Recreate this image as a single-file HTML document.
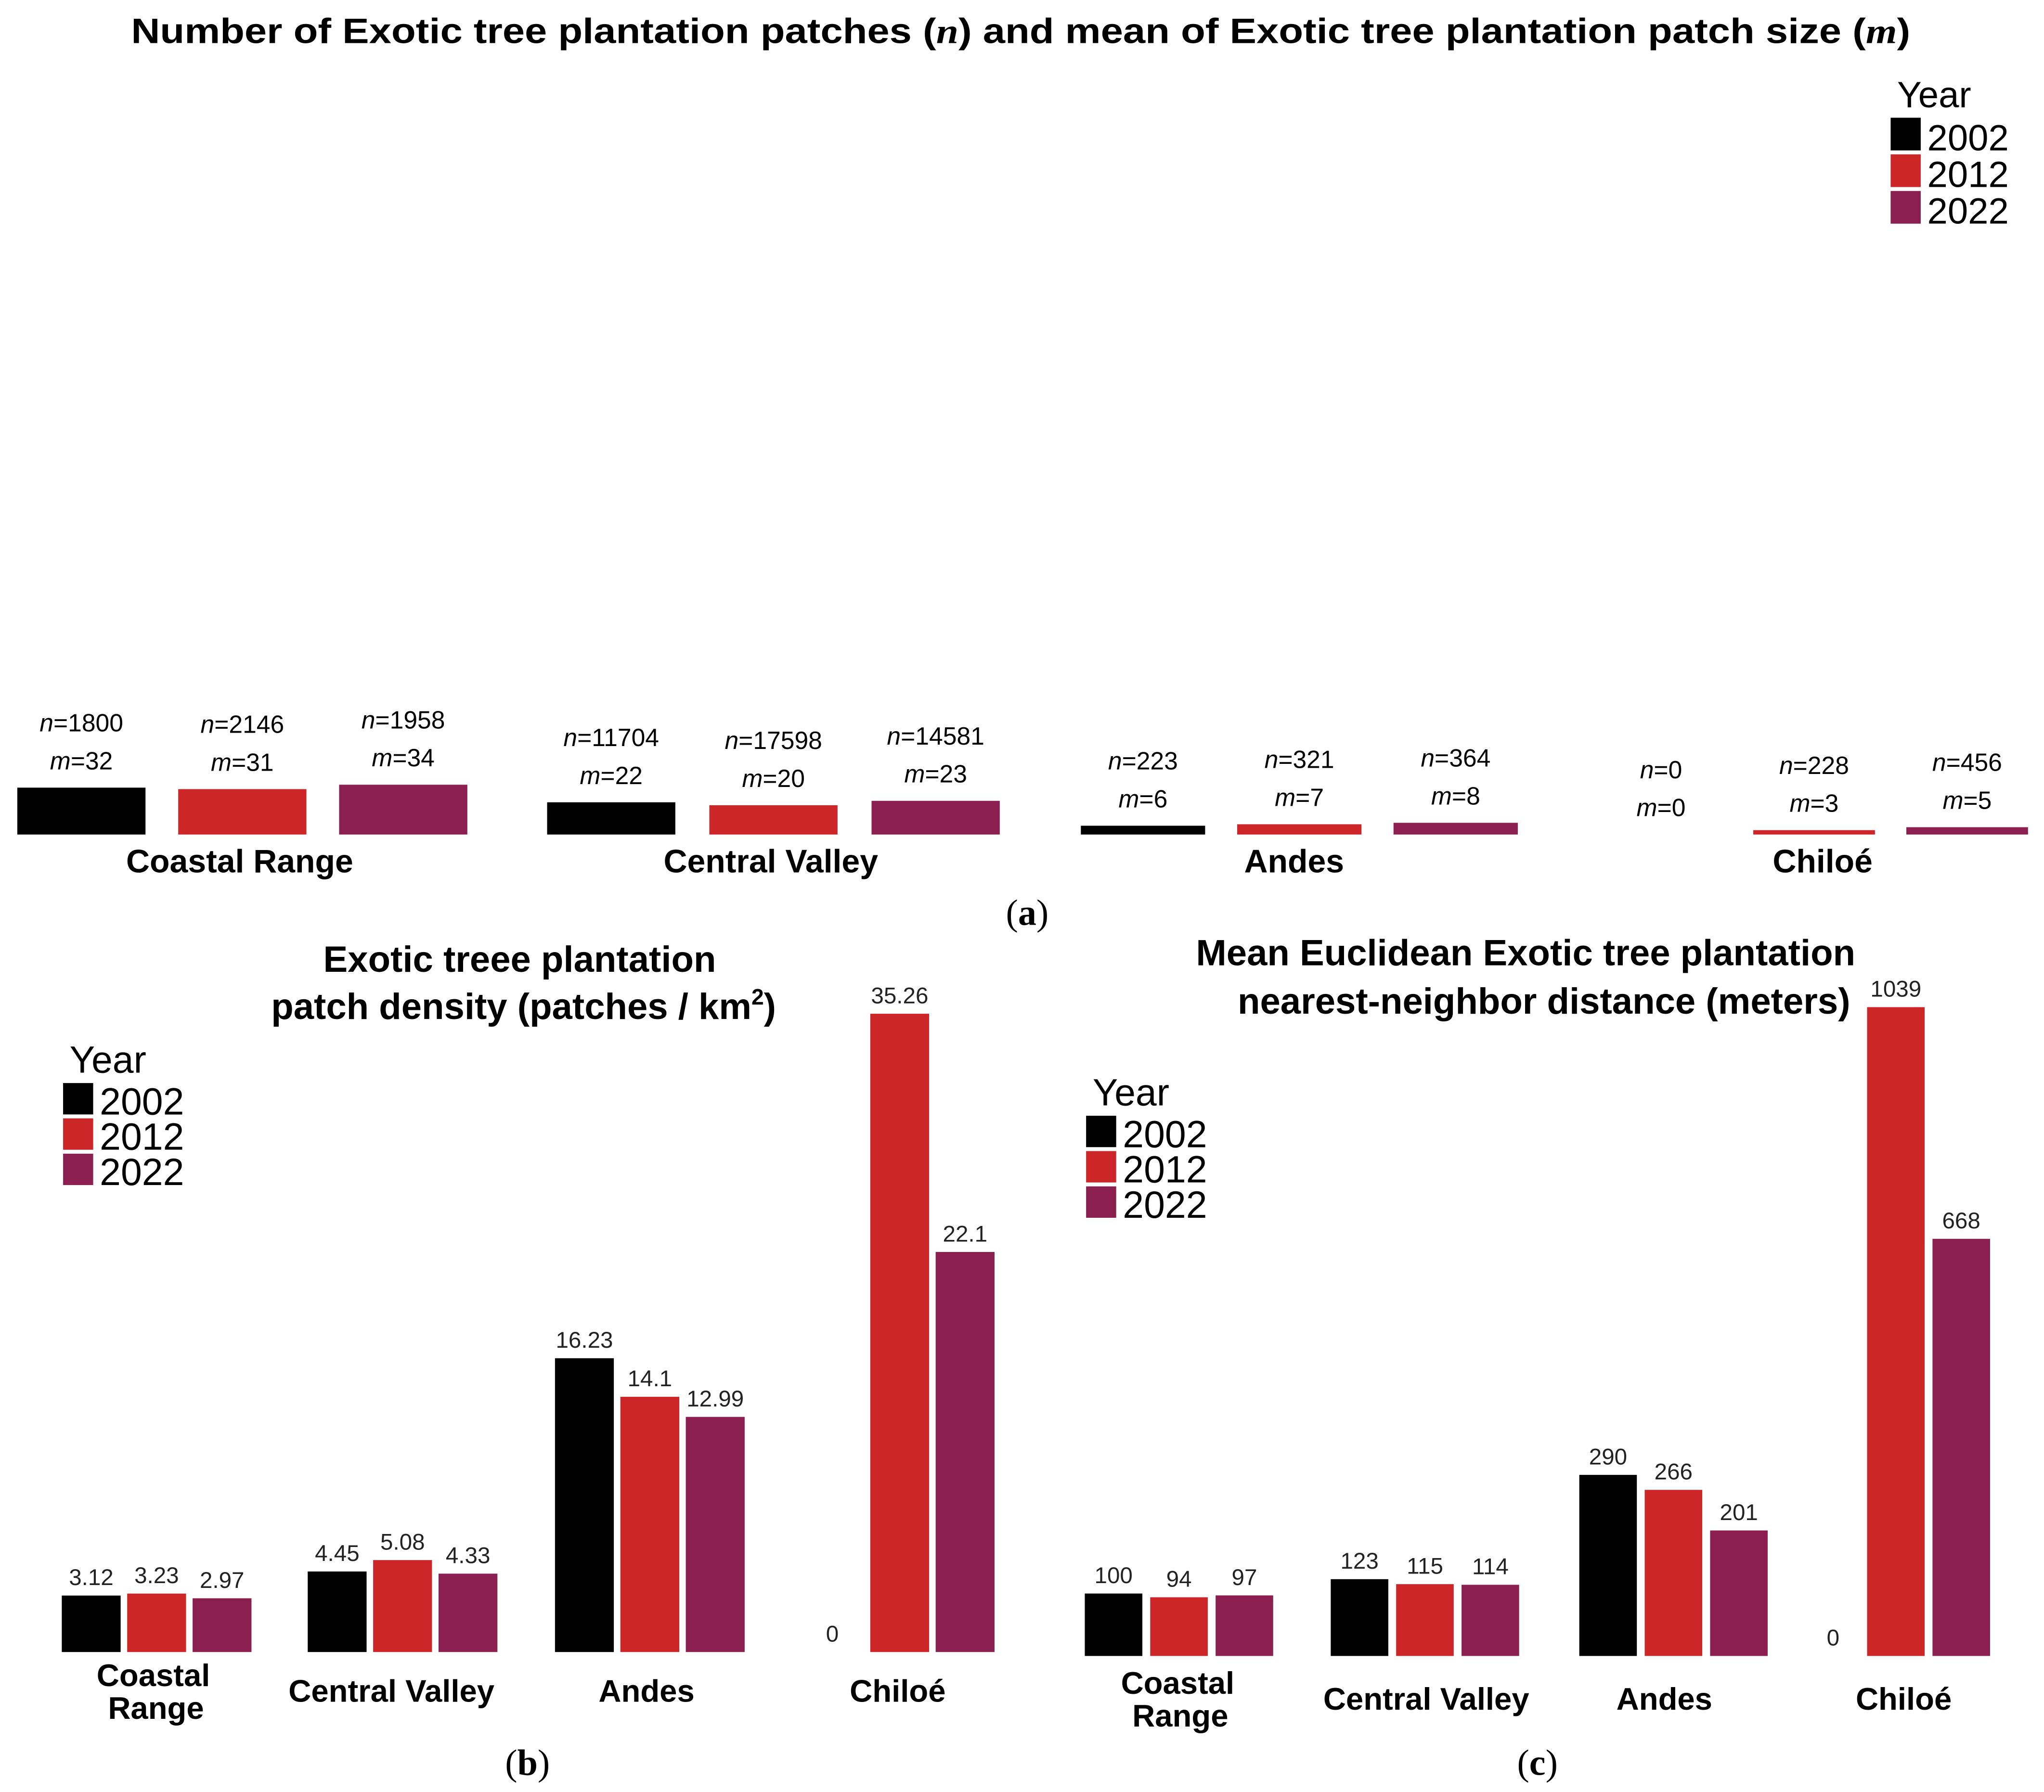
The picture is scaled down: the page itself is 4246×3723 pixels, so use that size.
<!DOCTYPE html>
<html><head><meta charset="utf-8"><style>
html,body{margin:0;padding:0;background:#fff;}
svg{display:block;}
text{font-family:"Liberation Sans",Arial,sans-serif;}
.serif{font-family:"Liberation Serif",serif;}
</style></head><body>
<svg id="fig" width="4246" height="3723" viewBox="0 0 1562 1370" xmlns="http://www.w3.org/2000/svg">
<rect width="1562" height="1370" fill="#fff"/>
<text x="780" y="33" text-anchor="middle" font-size="27" font-weight="bold" textLength="1360" lengthAdjust="spacingAndGlyphs">Number of Exotic tree plantation patches (<tspan font-style="italic" class="serif">n</tspan>) and mean of Exotic tree plantation patch size (<tspan font-style="italic" class="serif">m</tspan>)</text>
<g id="ga"></g>
<g id="gb"></g>
<g id="gc"></g>
<text class="serif" x="785" y="707" text-anchor="middle" font-size="28">(<tspan font-weight="bold">a</tspan>)</text>
<text class="serif" x="403" y="1357" text-anchor="middle" font-size="28">(<tspan font-weight="bold">b</tspan>)</text>
<text class="serif" x="1175" y="1357" text-anchor="middle" font-size="28">(<tspan font-weight="bold">c</tspan>)</text>
<text x="397" y="743" text-anchor="middle" font-size="28" font-weight="bold">Exotic treee plantation</text>
<text x="400" y="779" text-anchor="middle" font-size="28" font-weight="bold">patch density (patches / km<tspan font-size="17" dy="-11">2</tspan><tspan dy="11">)</tspan></text>
<text x="1166" y="738" text-anchor="middle" font-size="28" font-weight="bold">Mean Euclidean Exotic tree plantation</text>
<text x="1180" y="775" text-anchor="middle" font-size="28" font-weight="bold">nearest-neighbor distance (meters)</text>
</svg>
<script>
const years = ['2002','2012','2022'];
const colors = ['#000000','#cc2629','#8b2050'];
const regions = ['Coastal Range','Central Valley','Andes','Chiloé'];
const nVals = [[1800,2146,1958],[11704,17598,14581],[223,321,364],[0,228,456]];
const mVals = [[32,31,34],[22,20,23],[6,7,8],[0,3,5]];
const densVals = [[3.12,3.23,2.97],[4.45,5.08,4.33],[16.23,14.1,12.99],[0,35.26,22.1]];
const densLabels = [['3.12','3.23','2.97'],['4.45','5.08','4.33'],['16.23','14.1','12.99'],['0','35.26','22.1']];
const distVals = [[100,94,97],[123,115,114],[290,266,201],[0,1039,668]];
const distLabels = [['100','94','97'],['123','115','114'],['290','266','201'],['0','1039','668']];
const NS='http://www.w3.org/2000/svg';
function mk(parent,tag,attrs,txt){const e=document.createElementNS(NS,tag);for(const k in attrs)e.setAttribute(k,attrs[k]);if(txt!==undefined)e.textContent=txt;parent.appendChild(e);return e;}

function legend(g,x,y,size,rowH,pfx){
  const t=mk(g,'text',{x:x+5,y:y,'font-size':size},'Year');
  
  
  years.forEach((yr,i)=>{
    const r=mk(g,'rect',{x:x,y:y+8+i*rowH,width:23,height:rowH-3,fill:colors[i]});
    
    
    const tt=mk(g,'text',{x:x+28,y:y+7+(i+1)*rowH-2,'font-size':size},yr);
    
    
  });
}

// Panel a
(function(){
  const g=document.getElementById('ga');
  const base=638, k=1.12;
  const groupX=[13,418,826,1342-119], bw=[98,98,95,93], step=[123,124,119.5,117];
  const y=v=>base-v*k;
  regions.forEach((reg,ri)=>{
    for(let j=0;j<3;j++){
      const x=groupX[ri]+j*step[ri];
      const h=base-y(mVals[ri][j]);
      const cx=x+bw[ri]/2;
      if(mVals[ri][j]>0){
        const r=mk(g,'rect',{x:x,y:y(mVals[ri][j]),width:bw[ri],height:h,fill:colors[j]});
        
        
      }
      const top=y(mVals[ri][j]);
      const t1=mk(g,'text',{x:cx,y:top-43,'text-anchor':'middle','font-size':19});
      
      
      mk(t1,'tspan',{'font-style':'italic'},'n');
      mk(t1,'tspan',{},'='+nVals[ri][j]);
      const t2=mk(g,'text',{x:cx,y:top-14,'text-anchor':'middle','font-size':19});
      
      
      mk(t2,'tspan',{'font-style':'italic'},'m');
      mk(t2,'tspan',{},'='+mVals[ri][j]);
    }
  });
  const cl=[183,589,989,1393];
  regions.forEach((reg,ri)=>{
    const t=mk(g,'text',{x:cl[ri],y:667,'text-anchor':'middle','font-size':25,'font-weight':'bold'},reg);
    
    
  });
  legend(g,1445,82,28,28,'a');
})();

function panel(g,pfx,vals,labels,base,k,groupX,bw,step,zeroX,catY,catX){
  const y=v=>base-v*k;
  regions.forEach((reg,ri)=>{
    for(let j=0;j<3;j++){
      const v=vals[ri][j];
      const x=groupX[ri]+j*step;
      if(v>0){
        const r=mk(g,'rect',{x:x,y:y(v),width:bw,height:base-y(v),fill:colors[j]});
        
        
        const t=mk(g,'text',{x:x+bw/2,y:y(v)-8,'text-anchor':'middle','font-size':17.5,fill:'#222'},labels[ri][j]);
        
        
      } else {
        const t=mk(g,'text',{x:zeroX,y:base-8,'text-anchor':'middle','font-size':17.5,fill:'#222'},labels[ri][j]);
        
        
      }
    }
    if(ri===0){
      const t=mk(g,'text',{x:catX[0],y:catY-12,'text-anchor':'middle','font-size':24,'font-weight':'bold'},'Coastal');
      
      
      const t2=mk(g,'text',{x:catX[0]+2,y:catY+13,'text-anchor':'middle','font-size':24,'font-weight':'bold'},'Range');
      
      
    } else {
      const t=mk(g,'text',{x:catX[ri],y:catY,'text-anchor':'middle','font-size':24,'font-weight':'bold'},reg);
      
      
    }
  });
}
panel(document.getElementById('gb'),'b',densVals,densLabels,1263,13.84,[47,235,424,615],45,50,636,1301,[117,299,494,686]);
legend(document.getElementById('gb'),48,820,29,27,'b');
panel(document.getElementById('gc'),'c',distVals,distLabels,1266,0.4774,[829,1017,1207,1377],44,50,1401,1307,[900,1090,1272,1455]);
legend(document.getElementById('gc'),830,845,29,27,'c');
</script>
</body></html>
